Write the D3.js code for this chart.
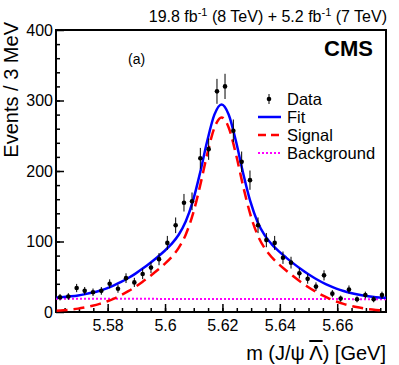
<!DOCTYPE html>
<html>

<head>
    <meta charset="utf-8">
    <title>J/psi Lambda-bar mass fit</title>
    <script src="https://d3js.org/d3.v7.min.js"></script>
</head>

<style>
    body {
        margin: 0;
        background: #fff;
    }

    .massChart text {
        font-family: "Liberation Sans", Arial, Helvetica, sans-serif;
        fill: #000;
    }
</style>

<body>
    <svg class="massChart"></svg>
    <script>
        //------------ data ------------

        // bin centres (GeV) and event counts
        var binCenters = [5.5634, 5.5663, 5.5692, 5.5720, 5.5749, 5.5778, 5.5807, 5.5836, 5.5864, 5.5893,
            5.5922, 5.5951, 5.5979, 5.6008, 5.6037, 5.6066, 5.6094, 5.6123, 5.6152, 5.6181,
            5.6209, 5.6238, 5.6267, 5.6296, 5.6324, 5.6353, 5.6382, 5.6411, 5.6439, 5.6468,
            5.6497, 5.6526, 5.6554, 5.6583, 5.6612, 5.6641, 5.6669, 5.6698, 5.6727, 5.6756];
        var counts = [21, 22, 34, 30, 28, 30, 40, 33, 48, 42,
            54, 63, 75, 98, 123, 155, 157, 218, 231, 313,
            320, 257, 213, 187, 123, 102, 98, 77, 70, 55,
            47, 36, 52, 26, 19, 32, 18, 24, 18, 24];

        // signal curve samples
        var curveX = [5.5622, 5.5647, 5.5672, 5.5697, 5.5722, 5.5747, 5.5772, 5.5797, 5.5822, 5.5847,
            5.5872, 5.5897, 5.5922, 5.5947, 5.5972, 5.5997, 5.6022, 5.6047, 5.6072, 5.6097,
            5.6122, 5.6147, 5.6172, 5.6197, 5.6222, 5.6247, 5.6272, 5.6297, 5.6322, 5.6347,
            5.6372, 5.6397, 5.6422, 5.6447, 5.6472, 5.6497, 5.6522, 5.6547, 5.6572, 5.6597,
            5.6622, 5.6647, 5.6672, 5.6697, 5.6722, 5.6747, 5.6772];
        var signalY = [1.8, 2.5, 3.5, 4.8, 6.6, 8.8, 11.5, 14.9, 19.0, 23.9,
            29.5, 35.8, 42.9, 50.6, 58.8, 67.6, 77.6, 90.6, 109.7, 138.7,
            178.7, 224.0, 261.4, 276.0, 261.4, 224.0, 178.7, 138.7, 109.7, 90.6,
            77.6, 67.6, 58.8, 50.6, 42.9, 35.8, 29.5, 23.9, 19.0, 14.9,
            11.5, 8.8, 6.6, 4.8, 3.5, 2.5, 1.8];

        // background: straight line between the two edges
        var bgX = [5.562, 5.677];
        var bgY = [18.8, 18.2];

        // axes
        var xMajorTicks = [5.58, 5.6, 5.62, 5.64, 5.66];
        var xTickLabels = ["5.58", "5.6", "5.62", "5.64", "5.66"];
        var yMajorTicks = [0, 100, 200, 300, 400];
        var yTickLabels = ["0", "100", "200", "300", "400"];

        var legendLabels = ["Data", "Fit", "Signal", "Background"];

        //------------ drawing ------------
        var width = 399, height = 365;
        var padL = 56, padR = 386, padT = 30, padB = 312;

        init();
        function init() {
            var svg = d3.select(".massChart")
                .attr("width", width)
                .attr("height", height);

            var x = d3.scaleLinear().domain([5.562, 5.677]).range([padL, padR]);
            var y = d3.scaleLinear().domain([0, 400]).range([padB, padT]);
            var bg = d3.scaleLinear().domain(bgX).range(bgY);

            drawAxes(svg, x, y);
            drawCurves(svg, x, y, bg);
            drawData(svg, x, y);
            drawLegend(svg);
            drawTexts(svg);
        }

        function drawAxes(svg, x, y) {
            // minor ticks
            svg.append("g")
                .attr("transform", "translate(0," + padB + ")")
                .call(d3.axisBottom(x).tickValues(d3.range(5.565, 5.677, 0.005)).tickSize(-4).tickFormat(""))
                .call(function (g) { g.select(".domain").remove(); });
            svg.append("g")
                .attr("transform", "translate(" + padL + ",0)")
                .call(d3.axisLeft(y).tickValues(d3.range(20, 400, 20)).tickSize(-4).tickFormat(""))
                .call(function (g) { g.select(".domain").remove(); });

            // major ticks + labels
            var xAxis = svg.append("g")
                .attr("transform", "translate(0," + padB + ")")
                .call(d3.axisBottom(x).tickValues(xMajorTicks).tickSize(-8).tickPadding(8)
                    .tickFormat(function (d, i) { return xTickLabels[i]; }));
            xAxis.select(".domain").remove();
            xAxis.selectAll("text").style("font-size", "16px")
                .style("font-family", "Liberation Sans, Arial, sans-serif");

            var yAxis = svg.append("g")
                .attr("transform", "translate(" + padL + ",0)")
                .call(d3.axisLeft(y).tickValues(yMajorTicks).tickSize(-8).tickPadding(3)
                    .tickFormat(function (d, i) { return yTickLabels[i]; }));
            yAxis.select(".domain").remove();
            yAxis.selectAll("text").style("font-size", "16px")
                .style("font-family", "Liberation Sans, Arial, sans-serif");

            svg.selectAll(".tick line").attr("stroke", "#000").attr("stroke-width", 1.5);

            // frame
            svg.append("rect")
                .attr("x", padL).attr("y", padT)
                .attr("width", padR - padL).attr("height", padB - padT)
                .attr("fill", "none").attr("stroke", "#000").attr("stroke-width", 2);
        }

        function drawCurves(svg, x, y, bg) {
            svg.append("clipPath").attr("id", "plotArea")
                .append("rect")
                .attr("x", padL).attr("y", padT)
                .attr("width", padR - padL).attr("height", padB - padT);

            var plot = svg.append("g").attr("clip-path", "url(#plotArea)");

            var line = d3.line()
                .x(function (d) { return x(d[0]); })
                .y(function (d) { return y(d[1]); })
                .curve(d3.curveMonotoneX);

            // background
            plot.append("path")
                .datum(bgX.map(function (v, i) { return [v, bgY[i]]; }))
                .attr("d", line)
                .attr("fill", "none").attr("stroke", "#ff00ff")
                .attr("stroke-width", 2).attr("stroke-dasharray", "2,2");

            // signal
            plot.append("path")
                .datum(curveX.map(function (v, i) { return [v, signalY[i]]; }))
                .attr("d", line)
                .attr("fill", "none").attr("stroke", "#ff0000")
                .attr("stroke-width", 2.5).attr("stroke-dasharray", "11,6");

            // fit = signal + background
            plot.append("path")
                .datum(curveX.map(function (v, i) { return [v, signalY[i] + bg(v)]; }))
                .attr("d", line)
                .attr("fill", "none").attr("stroke", "#0000ff")
                .attr("stroke-width", 2.5);
        }

        function drawData(svg, x, y) {
            var pts = svg.append("g").selectAll("g")
                .data(counts)
                .enter().append("g")
                .attr("transform", function (d, i) { return "translate(" + x(binCenters[i]) + ",0)"; });

            pts.append("line")
                .attr("y1", function (d) { return y(d + Math.sqrt(d)); })
                .attr("y2", function (d) { return y(d - Math.sqrt(d)); })
                .attr("stroke", "#000").attr("stroke-width", 1);
            pts.append("circle")
                .attr("cy", function (d) { return y(d); })
                .attr("r", 2.3)
                .attr("fill", "#000");
        }

        function drawLegend(svg) {
            var rowY = [99, 117, 135, 153];
            var lg = svg.append("g");
            lg.selectAll("text")
                .data(legendLabels)
                .enter().append("text")
                .attr("x", 287)
                .attr("y", function (d, i) { return rowY[i] + 6; })
                .style("font-size", "16.5px")
                .text(function (d) { return d; });

            // data marker
            lg.append("line").attr("x1", 269).attr("x2", 269).attr("y1", rowY[0] - 5).attr("y2", rowY[0] + 5)
                .attr("stroke", "#000").attr("stroke-width", 1);
            lg.append("circle").attr("cx", 269).attr("cy", rowY[0]).attr("r", 2.3).attr("fill", "#000");
            // fit
            lg.append("line").attr("x1", 258).attr("x2", 281).attr("y1", rowY[1]).attr("y2", rowY[1])
                .attr("stroke", "#0000ff").attr("stroke-width", 2.5);
            // signal
            lg.append("line").attr("x1", 258).attr("x2", 281).attr("y1", rowY[2]).attr("y2", rowY[2])
                .attr("stroke", "#ff0000").attr("stroke-width", 2.5).attr("stroke-dasharray", "8,5");
            // background
            lg.append("line").attr("x1", 258).attr("x2", 281).attr("y1", rowY[3]).attr("y2", rowY[3])
                .attr("stroke", "#ff00ff").attr("stroke-width", 2).attr("stroke-dasharray", "2,2");
        }

        function drawTexts(svg) {
            // luminosity header
            var head = svg.append("text")
                .attr("x", 387).attr("y", 22)
                .attr("text-anchor", "end")
                .style("font-size", "16px");
            head.append("tspan").text("19.8 fb");
            head.append("tspan").attr("dy", -6).style("font-size", "11px").text("-1");
            head.append("tspan").attr("dy", 6).text(" (8 TeV) + 5.2 fb");
            head.append("tspan").attr("dy", -6).style("font-size", "11px").text("-1");
            head.append("tspan").attr("dy", 6).text(" (7 TeV)");

            svg.append("text")
                .attr("x", 373).attr("y", 56)
                .attr("text-anchor", "end")
                .style("font-size", "22px").style("font-weight", "bold")
                .text("CMS");

            svg.append("text")
                .attr("x", 128).attr("y", 64)
                .style("font-size", "14px")
                .text("(a)");

            // axis titles
            svg.append("text")
                .attr("transform", "translate(18,22) rotate(-90)")
                .attr("text-anchor", "end")
                .style("font-size", "20px")
                .text("Events / 3 MeV");

            var xt = svg.append("text")
                .attr("x", 386).attr("y", 360)
                .attr("text-anchor", "end")
                .style("font-size", "20px");
            xt.append("tspan").text("m (J/\u03C8 ");
            xt.append("tspan").style("text-decoration", "overline").text("\u039B");
            xt.append("tspan").text(") [GeV]");
        }
    </script>
</body>

</html>
